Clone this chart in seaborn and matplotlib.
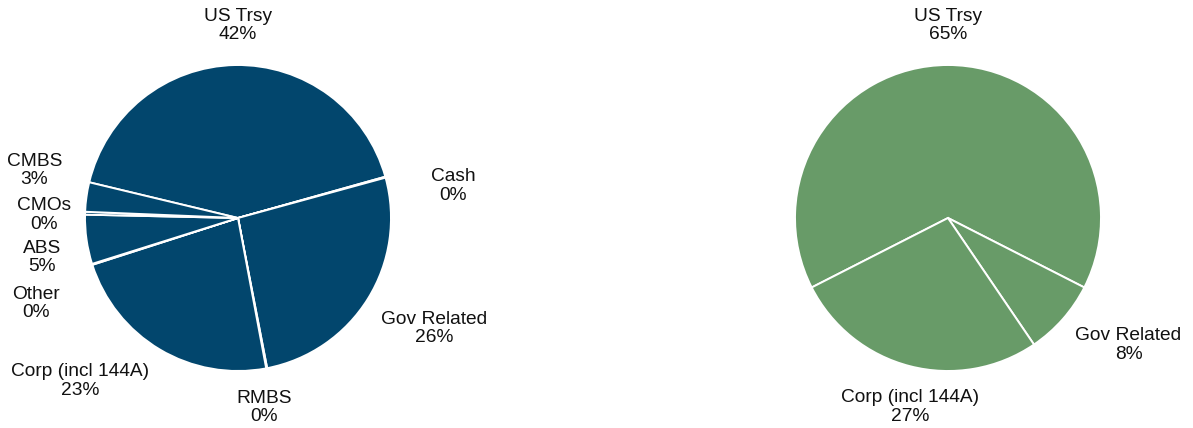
import matplotlib
matplotlib.use("Agg")
import matplotlib.pyplot as plt
import seaborn as sns

# Portfolio sector allocation (percent of market value)
left_sectors = ["US Trsy", "Cash", "Gov Related", "RMBS", "Corp (incl 144A)",
                "Other", "ABS", "CMOs", "CMBS"]
left_weights = [41.9, 0.1, 26.2, 0.1, 23.0, 0.1, 5.2, 0.3, 3.1]

right_sectors = ["US Trsy", "Gov Related", "Corp (incl 144A)"]
right_weights = [65.0, 8.0, 27.0]

# Label anchor points, in units of the pie radius
left_label_xy = [(0.0, 1.26), (1.405, 0.21), (1.28, -0.72), (0.17, -1.24),
                 (-1.03, -1.065), (-1.32, -0.56), (-1.28, -0.26),
                 (-1.27, 0.02), (-1.33, 0.31)]
right_label_xy = [(0.0, 1.26), (1.18, -0.83), (-0.25, -1.235)]

sns.set_theme(style="white")
plt.rcParams["font.family"] = ["Liberation Sans", "DejaVu Sans"]

W, H = 1193, 428
R = 153.0  # pie radius in pixels
fig = plt.figure(figsize=(W / 100, H / 100), dpi=100)
fig.patch.set_facecolor("white")

blue = "#02466D"
green = "#689B68"


def draw_pie(rect, cx, cy, sectors, weights, color, start, label_xy):
    ax = fig.add_axes(rect)
    ax.pie(weights, colors=[color] * len(weights), startangle=start,
           counterclock=False, radius=1.0,
           wedgeprops=dict(edgecolor="white", linewidth=1.4))
    x0 = rect[0] * W
    wpx = rect[2] * W
    ax.set_xlim(-(cx - x0) / R, (x0 + wpx - cx) / R)
    ax.set_ylim(-(H - cy) / R, cy / R)
    ax.set_aspect("equal")
    ax.axis("off")
    for name, w, (lx, ly) in zip(sectors, weights, label_xy):
        ax.text(lx, ly, f"{name}\n{round(w):d}%", ha="center", va="center",
                fontsize=13.8, color="#111111", linespacing=1.1,
                clip_on=False)
    return ax


draw_pie([0, 0, 0.5, 1], 238, 218, left_sectors, left_weights, blue, 166.5,
         left_label_xy)
draw_pie([0.5, 0, 0.5, 1], 948, 218, right_sectors, right_weights, green, 207,
         right_label_xy)

fig.savefig("out.png", dpi=100, facecolor="white")
